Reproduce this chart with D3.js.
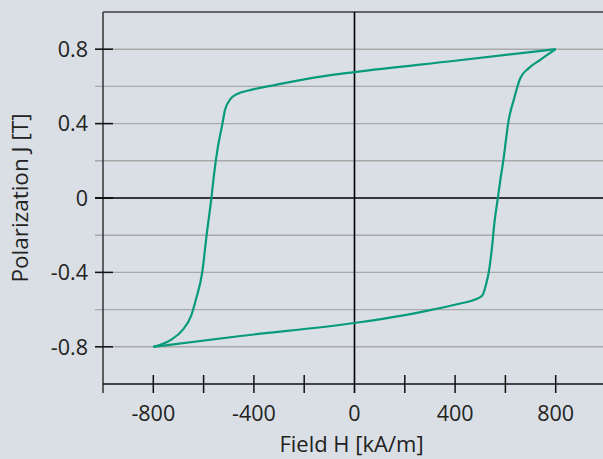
<!DOCTYPE html>
<html lang="en">
<head>
  <meta charset="UTF-8">
  <title>Hysteresis loop</title>
  <style>
    body {
      margin: 0;
      background-color: #d9dfe4;
      font-family: 'Open Sans', 'DejaVu Sans', sans-serif;
    }
    svg { display: block; }
    text {
      fill: #222;
    }
  </style>
</head>
<body>
  <svg width="603" height="459"></svg>

  <script src="https://d3js.org/d3.v7.min.js"></script>
  <script>
  // descending branch (from +800 to -800)
  const upperH = [800, 400, 0, -183, -314, -421, -466, -492, -515, -525, -543, -558, -569, -588, -605, -631, -651, -684, -730, -800];
  const upperJ = [0.8, 0.738, 0.677, 0.642, 0.608, 0.578, 0.559, 0.534, 0.473, 0.40, 0.276, 0.133, 0, -0.199, -0.396, -0.548, -0.638, -0.71, -0.763, -0.8];
  // ascending branch (from -800 to +800)
  const lowerH = [-800, -453, 0, 183, 314, 421, 480, 508, 524, 533, 547, 556, 570, 580, 592, 613, 633, 659, 692, 738, 800];
  const lowerJ = [-0.8, -0.742, -0.672, -0.634, -0.599, -0.567, -0.546, -0.524, -0.459, -0.405, -0.262, -0.136, 0, 0.098, 0.204, 0.419, 0.527, 0.644, 0.697, 0.742, 0.8];

  const xTicks = [-1000, -800, -600, -400, -200, 0, 200, 400, 600, 800, 1000];
  const xLabels = ["-800", "-400", "0", "400", "800"];
  const yGrid = [-0.8, -0.6, -0.4, -0.2, 0, 0.2, 0.4, 0.6, 0.8];
  const yLabels = ["-0.8", "-0.4", "0", "0.4", "0.8"];

  const W = 603;
  const x = d3.scaleLinear().domain([-1000, 1000]).range([103, 606]);
  const y = d3.scaleLinear().domain([-1, 1]).range([384, 12]);

  const svg = d3.select("svg");

  // horizontal grid
  svg.selectAll(".grid")
    .data(yGrid.filter(d => d !== 0))
    .enter().append("line")
    .attr("x1", 95).attr("x2", W)
    .attr("y1", d => y(d)).attr("y2", d => y(d))
    .attr("stroke", "#a9a9a9")
    .attr("stroke-width", 1.4);

  // top border
  svg.append("line")
    .attr("x1", x(-1000)).attr("x2", W)
    .attr("y1", y(1)).attr("y2", y(1))
    .attr("stroke", "#3c3c3c").attr("stroke-width", 1.6);

  // left axis line
  svg.append("line")
    .attr("x1", x(-1000)).attr("x2", x(-1000))
    .attr("y1", y(1)).attr("y2", y(-1) + 9)
    .attr("stroke", "#333").attr("stroke-width", 1.5);

  // y ticks
  svg.selectAll(".ytick")
    .data(yLabels)
    .enter().append("line")
    .attr("x1", 95).attr("x2", 113)
    .attr("y1", d => y(+d)).attr("y2", d => y(+d))
    .attr("stroke", "#111").attr("stroke-width", 1.5);

  // zero lines
  svg.append("line")
    .attr("x1", 95).attr("x2", W)
    .attr("y1", y(0)).attr("y2", y(0))
    .attr("stroke", "#000").attr("stroke-width", 1.6);
  svg.append("line")
    .attr("x1", x(0)).attr("x2", x(0))
    .attr("y1", y(1)).attr("y2", y(-1) + 9)
    .attr("stroke", "#000").attr("stroke-width", 1.6);

  // x axis
  svg.append("line")
    .attr("x1", x(-1000)).attr("x2", W)
    .attr("y1", y(-1)).attr("y2", y(-1))
    .attr("stroke", "#111").attr("stroke-width", 1.5);
  svg.selectAll(".xtick")
    .data(xTicks.filter(d => d > -1000 && d !== 0 && x(d) < W))
    .enter().append("line")
    .attr("x1", d => x(d)).attr("x2", d => x(d))
    .attr("y1", y(-1) - 9).attr("y2", y(-1) + 9)
    .attr("stroke", "#111").attr("stroke-width", 1.5);

  // tick labels
  svg.selectAll(".xlab")
    .data(xLabels)
    .enter().append("text")
    .attr("x", d => x(+d))
    .attr("y", 421)
    .attr("text-anchor", "middle")
    .attr("font-size", 21.5)
    .text(d => d);

  svg.selectAll(".ylab")
    .data(yLabels)
    .enter().append("text")
    .attr("x", 88)
    .attr("y", d => y(+d))
    .attr("dy", "0.36em")
    .attr("text-anchor", "end")
    .attr("font-size", 21.5)
    .text(d => d);

  // axis titles
  svg.append("text")
    .attr("x", x(0) - 3)
    .attr("y", 452)
    .attr("text-anchor", "middle")
    .attr("font-size", 22)
    .text("Field H [kA/m]");

  svg.append("text")
    .attr("transform", `translate(27.5,${y(0)}) rotate(-90)`)
    .attr("text-anchor", "middle")
    .attr("font-size", 22.5)
    .text("Polarization J [T]");

  // loop
  const line = d3.line()
    .x(d => x(d[0]))
    .y(d => y(d[1]))
    .curve(d3.curveMonotoneX);

  const upper = upperH.map((h, i) => [h, upperJ[i]]).sort((a, b) => a[0] - b[0]);
  const lower = lowerH.map((h, i) => [h, lowerJ[i]]);

  [upper, lower].forEach(pts => {
    svg.append("path")
      .datum(pts)
      .attr("d", line)
      .attr("fill", "none")
      .attr("stroke", "#079a7b")
      .attr("stroke-width", 2.2)
      .attr("stroke-linejoin", "round");
  });
  </script>
</body>
</html>
